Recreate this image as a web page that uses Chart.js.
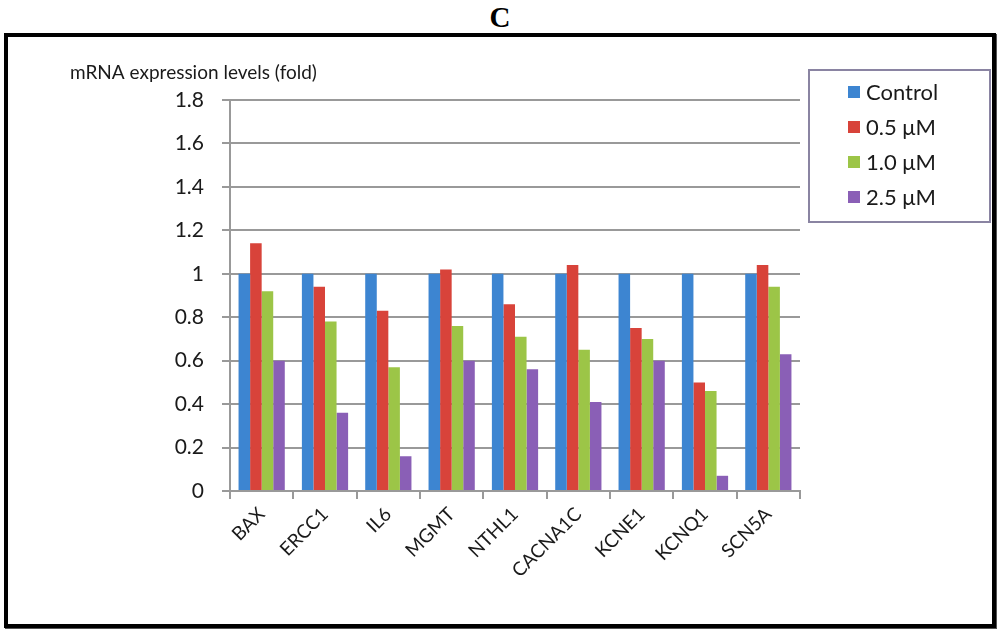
<!DOCTYPE html>
<html>
<head>
<meta charset="utf-8">
<script src="https://cdn.jsdelivr.net/npm/chart.js@4"></script>
<style>
  html, body { margin: 0; padding: 0; background: #fff; }
  #wrap { position: relative; width: 1000px; height: 633px; }
  #title { position: absolute; left: 0; top: 1px; width: 1000px; text-align: center;
           font: bold 29px "Liberation Serif", "DejaVu Serif", serif; color: #000; }
  #frame { position: absolute; left: 4px; top: 33px; width: 984px; height: 587px;
           border: 4px solid #000; box-shadow: 1px 1px 0 #555; pointer-events: none; }
  canvas { position: absolute; left: 0; top: 0; }
</style>
</head>
<body>
<div id="wrap">
  <div id="title">C</div>
  <canvas id="myChart" width="1000" height="633"></canvas>
  <div id="frame"></div>
</div>
<script>
// 데이터
const genes = ["BAX", "ERCC1", "IL6", "MGMT", "NTHL1", "CACNA1C", "KCNE1", "KCNQ1", "SCN5A"];
const seriesNames = ["Control", "0.5 μM", "1.0 μM", "2.5 μM"];
const control = [1, 1, 1, 1, 1, 1, 1, 1, 1];
const dose05 = [1.14, 0.94, 0.83, 1.02, 0.86, 1.04, 0.75, 0.5, 1.04];
const dose10 = [0.92, 0.78, 0.57, 0.76, 0.71, 0.65, 0.7, 0.46, 0.94];
const dose25 = [0.6, 0.36, 0.16, 0.6, 0.56, 0.41, 0.6, 0.07, 0.63];
const yTicks = [0, 0.2, 0.4, 0.6, 0.8, 1, 1.2, 1.4, 1.6, 1.8];
const yTitle = "mRNA expression levels (fold)";

const colors = ["#3d85d1", "#d8433a", "#9cc547", "#8a5fb6"];
const font = "Lato, 'Open Sans', sans-serif";

// 범례 + 축 제목 그리기
const boxLegend = {
  id: "boxLegend",
  afterDraw(chart) {
    const c = chart.ctx;
    c.save();
    c.fillStyle = "#1a1a1a";
    c.font = "19px " + font;
    c.textBaseline = "middle";
    c.textAlign = "left";
    c.fillText(yTitle, 70, 73);

    c.strokeStyle = "#8a84a2";
    c.lineWidth = 2;
    c.strokeRect(809, 70, 181, 152);
    c.font = "22px " + font;
    chart.data.datasets.forEach((ds, i) => {
      const y = 93 + i * 35;
      c.fillStyle = ds.backgroundColor;
      c.fillRect(848, y - 7, 12, 12);
      c.fillStyle = "#1a1a1a";
      c.fillText(ds.label, 866, y);
    });
    c.restore();
  },
};

const ctx = document.getElementById("myChart").getContext("2d");
const data = [control, dose05, dose10, dose25];

const myChart = new Chart(ctx, {
  type: "bar",
  data: {
    labels: genes,
    datasets: seriesNames.map((name, i) => ({
      label: name,
      data: data[i],
      backgroundColor: colors[i],
      borderWidth: 0,
      barPercentage: 1,
      categoryPercentage: 0.73,
    })),
  },
  options: {
    responsive: false,
    animation: false,
    devicePixelRatio: 1,
    layout: { padding: { top: 100, right: 200, left: 0, bottom: 0 } },
    plugins: {
      legend: { display: false },
      title: { display: false },
      tooltip: { enabled: false },
    },
    scales: {
      x: {
        afterFit(scale) { scale.height = 142; },
        grid: {
          offset: true,
          drawOnChartArea: false,
          color: "#999",
          lineWidth: 2,
          tickLength: 8,
        },
        border: { color: "#999", width: 2 },
        ticks: {
          minRotation: 45,
          maxRotation: 45,
          padding: 4,
          color: "#1a1a1a",
          font: { family: font, size: 19 },
        },
      },
      y: {
        min: 0,
        max: 1.8,
        afterFit(scale) { scale.width = 230; },
        afterBuildTicks(scale) { scale.ticks = yTicks.map(v => ({ value: v })); },
        grid: {
          color: "#999",
          lineWidth: 2,
          tickLength: 8,
        },
        border: { color: "#999", width: 2 },
        ticks: {
          padding: 18,
          color: "#1a1a1a",
          font: { family: font, size: 21 },
          callback: v => String(+v.toFixed(1)),
        },
      },
    },
  },
  plugins: [boxLegend],
});
</script>
</body>
</html>
